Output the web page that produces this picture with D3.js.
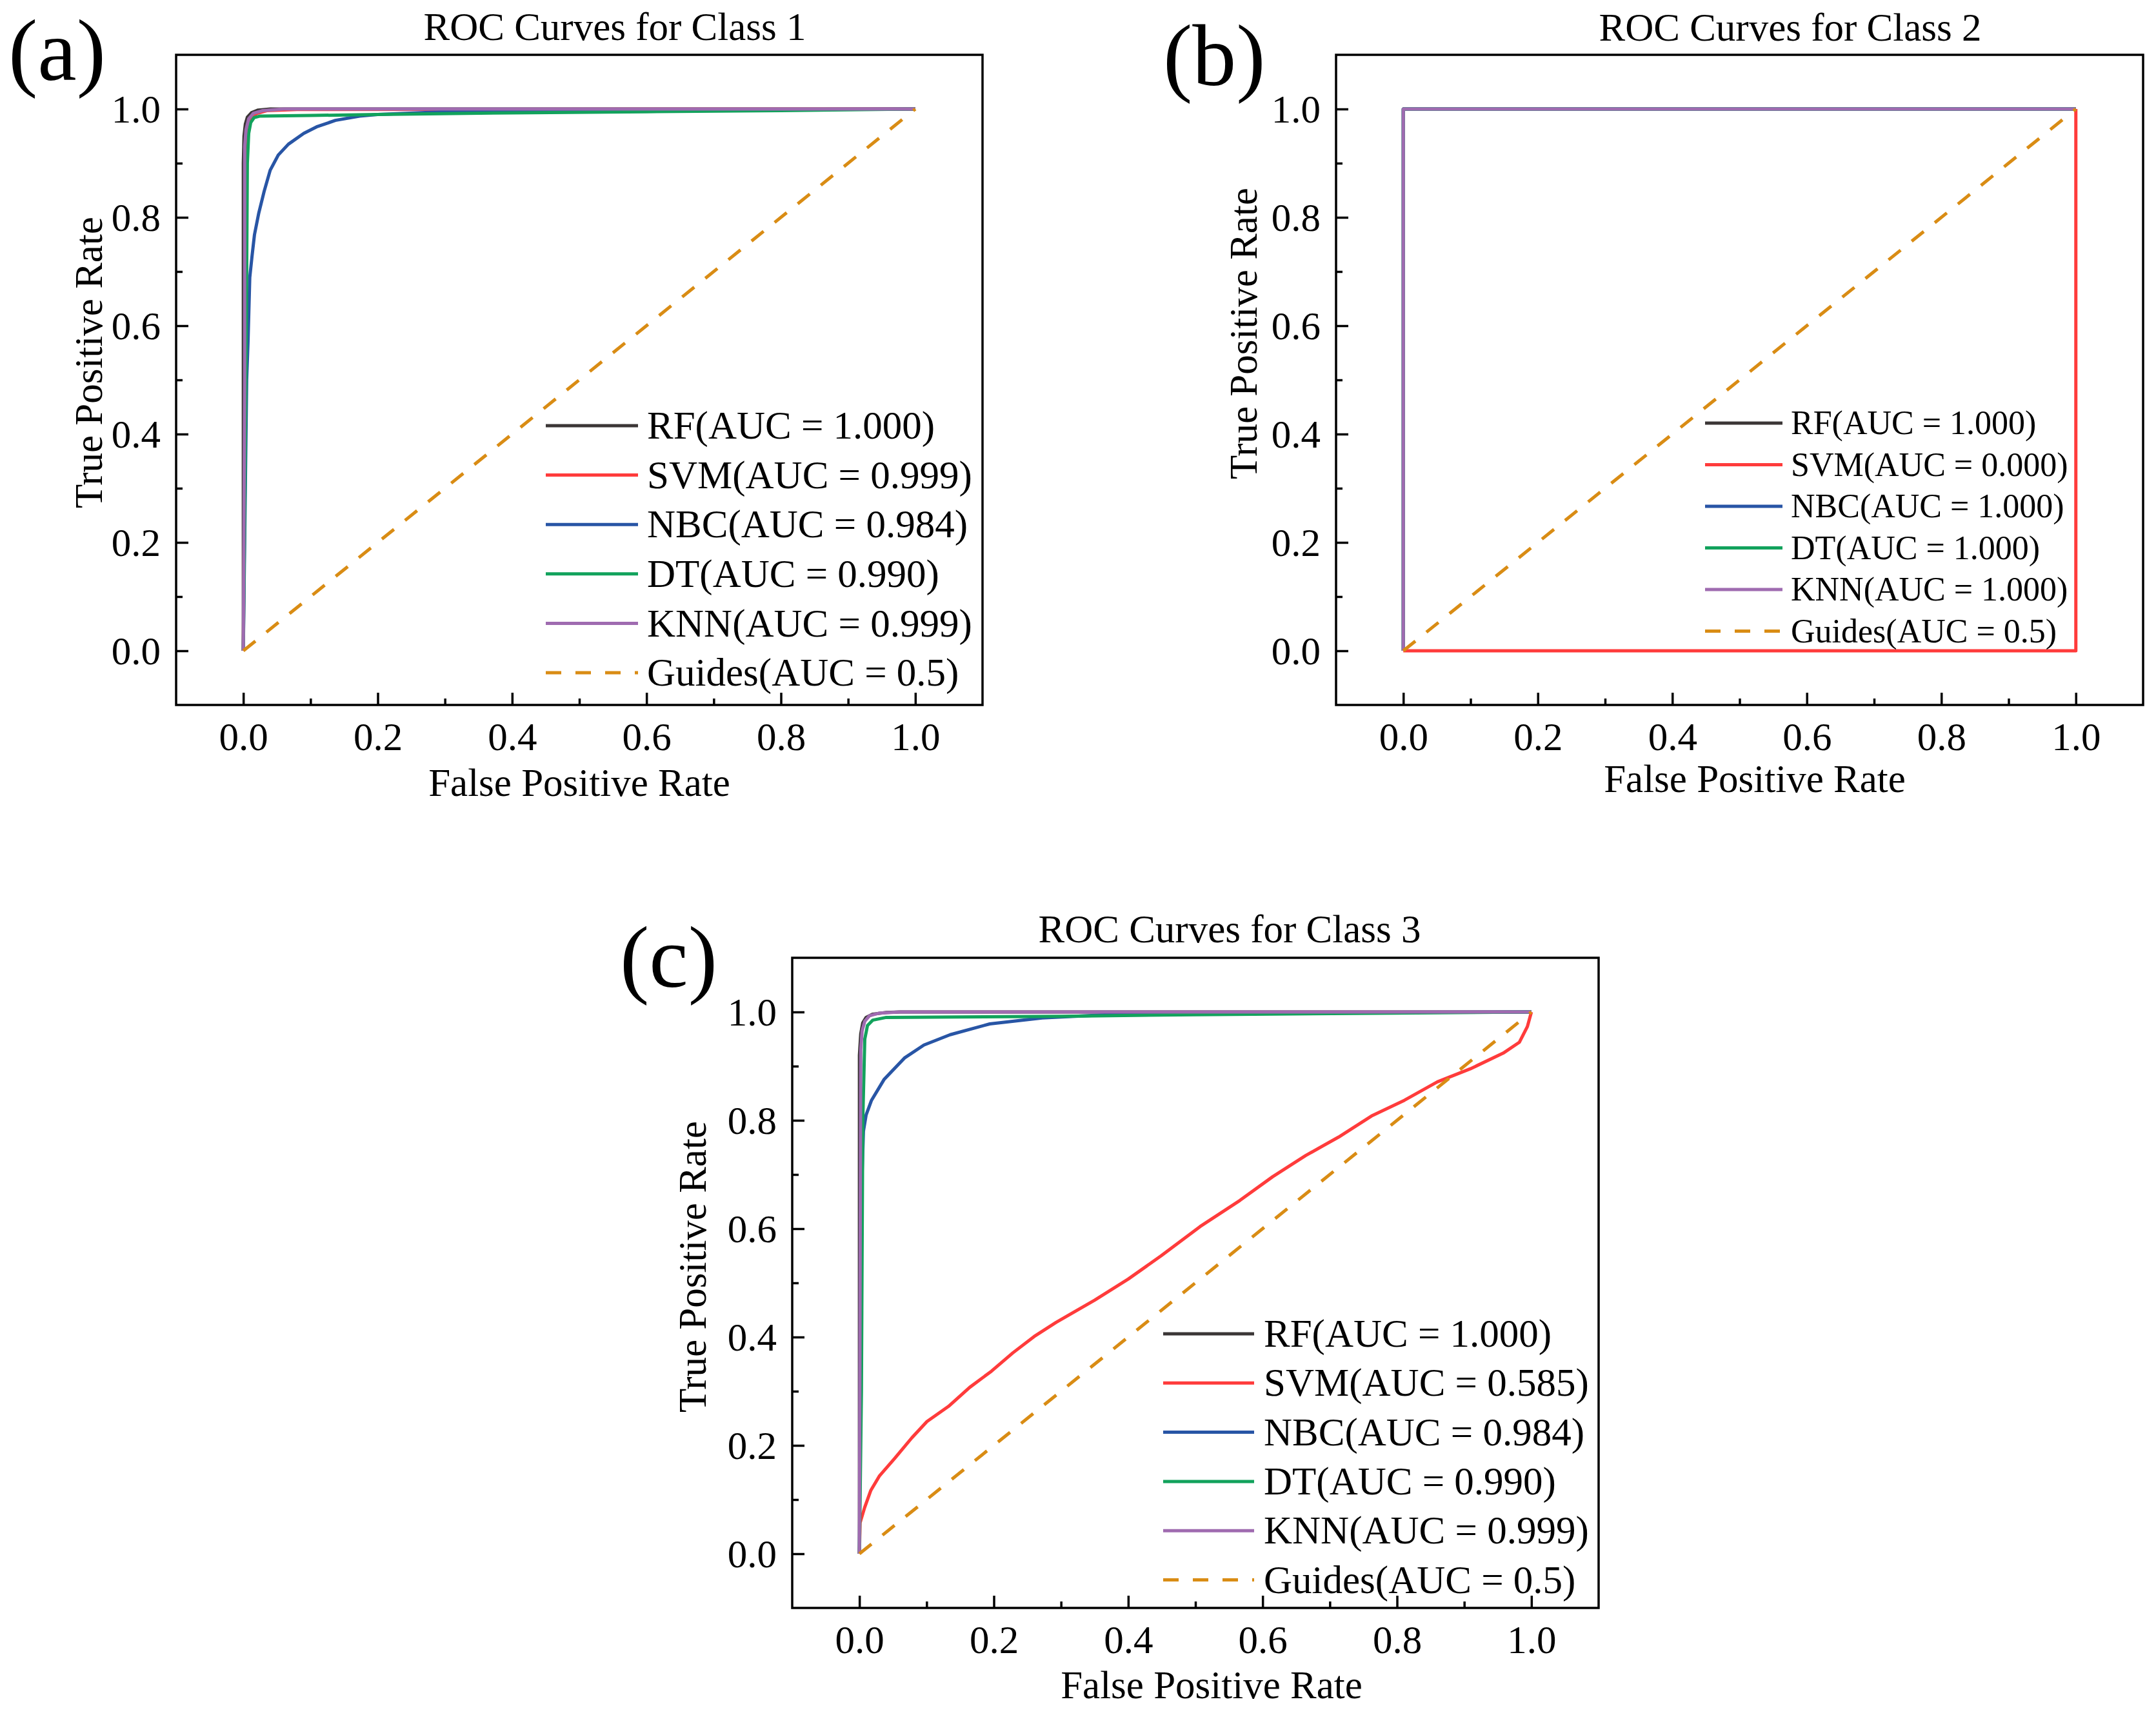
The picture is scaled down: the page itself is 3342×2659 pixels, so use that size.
<!DOCTYPE html>
<html>
<head>
<meta charset="utf-8">
<title>ROC Curves for Class 1-3</title>
<script src="https://d3js.org/d3.v7.min.js"></script>
<style>
  body { margin: 0; background: #fff; }
  svg { display: block; font-family: "Liberation Serif", "Times New Roman", serif; }
  .frame { fill: none; stroke: #000; stroke-width: 3.5px; }
  .axis path { display: none; }
  .axis line { stroke: #000; stroke-width: 3.5px; }
  .roc { fill: none; stroke-width: 5px; stroke-linejoin: round; stroke-linecap: butt; }
</style>
</head>
<body>
<svg id="chart"></svg>
<script>
// ---- data ----
const models = ["RF", "SVM", "NBC", "DT", "KNN"];
const colors = ["#3b3636", "#ff3b3b", "#2855a5", "#12a25c", "#9f6bb0"];
const guideColor = "#d98c14";

const aucA = ["1.000", "0.999", "0.984", "0.990", "0.999"];
const aucB = ["1.000", "0.000", "1.000", "1.000", "1.000"];
const aucC = ["1.000", "0.585", "0.984", "0.990", "0.999"];

const majorTicks = [0, 0.2, 0.4, 0.6, 0.8, 1.0];
const minorTicks = [0.1, 0.3, 0.5, 0.7, 0.9];

// class 1  [fpr, tpr]
const a_RF  = [[0,0],[0,0.90],[0.001,0.95],[0.003,0.972],[0.006,0.985],[0.012,0.993],[0.022,0.998],[0.04,1],[1,1]];
const a_SVM = [[0,0],[0.003,0.5],[0.004,0.93],[0.006,0.965],[0.01,0.98],[0.02,0.992],[0.035,0.997],[0.08,0.999],[1,1]];
const a_NBC = [[0,0],[0.003,0.3],[0.005,0.5],[0.007,0.57],[0.0096,0.689],[0.013,0.729],[0.0166,0.768],[0.023,0.808],
               [0.031,0.848],[0.040,0.887],[0.052,0.915],[0.067,0.935],[0.090,0.955],[0.109,0.967],[0.137,0.979],
               [0.173,0.987],[0.2,0.99],[0.3,0.995],[0.5,0.998],[1,1]];
const a_DT  = [[0,0],[0.004,0.5],[0.006,0.9],[0.008,0.955],[0.011,0.975],[0.016,0.984],[0.025,0.987],[0.1,0.988],
               [0.2,0.99],[0.4,0.993],[0.6,0.995],[0.8,0.997],[1,1]];
const a_KNN = [[0,0],[0.002,0.5],[0.002,0.93],[0.004,0.962],[0.008,0.982],[0.015,0.992],[0.029,0.997],[0.06,1],[1,1]];

// class 2
const b_RF  = [[0,0],[0,1],[1,1]];
const b_SVM = [[0,0],[1,0],[1,1]];
const b_NBC = [[0,0],[0,1],[1,1]];
const b_DT  = [[0,0],[0,1],[1,1]];
const b_KNN = [[0,0],[0,1],[1,1]];

// class 3
const c_RF  = [[0,0],[0,0.92],[0.002,0.96],[0.005,0.98],[0.01,0.99],[0.02,0.996],[0.04,0.999],[0.06,1],[1,1]];
const c_SVM = [[0,0],[0.001,0.057],[0.0077,0.085],[0.017,0.117],[0.030,0.144],[0.0525,0.176],[0.078,0.214],
               [0.1005,0.244],[0.1325,0.272],[0.164,0.307],[0.1965,0.337],[0.2285,0.371],[0.26,0.401],[0.2925,0.427],
               [0.35,0.468],[0.40,0.507],[0.449,0.55],[0.507,0.604],[0.566,0.652],[0.615,0.696],[0.664,0.735],
               [0.713,0.769],[0.762,0.808],[0.811,0.837],[0.86,0.871],[0.909,0.895],[0.958,0.924],[0.982,0.944],
               [0.994,0.973],[1,1]];
const c_NBC = [[0,0],[0.002,0.4],[0.004,0.7],[0.006,0.78],[0.01,0.81],[0.018,0.837],[0.037,0.876],[0.067,0.915],
               [0.096,0.939],[0.135,0.958],[0.194,0.978],[0.272,0.989],[0.37,0.995],[0.6,0.999],[1,1]];
const c_DT  = [[0,0],[0.003,0.3],[0.005,0.8],[0.008,0.95],[0.012,0.975],[0.02,0.985],[0.04,0.99],[0.3,0.992],
               [0.5,0.995],[0.8,0.998],[1,1]];
const c_KNN = [[0,0],[0.001,0.5],[0.002,0.93],[0.004,0.965],[0.008,0.983],[0.015,0.993],[0.03,0.998],[0.06,1],[1,1]];

const guide = [[0,0],[1,1]];

// ---- layout ----
const W = 3342, H = 2659;
const FONT = "Liberation Serif, Times New Roman, serif";
const svg = d3.select("#chart").attr("width", W).attr("height", H);
svg.append("rect").attr("width", W).attr("height", H).attr("fill", "#fff");

const panels = [
  { tag: "(a)", title: "ROC Curves for Class 1", curves: [a_RF, a_SVM, a_NBC, a_DT, a_KNN], auc: aucA,
    box: [273, 85, 1250, 1008], titlePos: [953, 62], tagPos: [13, 124], ylab: [158, 562], xlab: [898, 1234],
    leg: { x1: 846, x2: 989, tx: 1003, y0: 660, dy: 76.6, fs: 61 } },
  { tag: "(b)", title: "ROC Curves for Class 2", curves: [b_RF, b_SVM, b_NBC, b_DT, b_KNN], auc: aucB,
    box: [2071, 85, 1251, 1008], titlePos: [2775, 63], tagPos: [1803, 132], ylab: [1948, 517], xlab: [2720, 1228],
    leg: { x1: 2643, x2: 2763, tx: 2776, y0: 656, dy: 64.5, fs: 52 } },
  { tag: "(c)", title: "ROC Curves for Class 3", curves: [c_RF, c_SVM, c_NBC, c_DT, c_KNN], auc: aucC,
    box: [1228, 1485, 1250, 1008], titlePos: [1906, 1461], tagPos: [961, 1530], ylab: [1094, 1964], xlab: [1878, 2633],
    leg: { x1: 1803, x2: 1944, tx: 1959, y0: 2068, dy: 76.3, fs: 61 } }
];

const FS = 61;

panels.forEach(p => {
  const [bx, by, bw, bh] = p.box;
  const x = d3.scaleLinear().domain([-0.1, 1.1]).range([bx, bx + bw]);
  const y = d3.scaleLinear().domain([-0.1, 1.1]).range([by + bh, by]);
  const g = svg.append("g");

  // ticks point inward, bottom and left sides only
  const xMajor = g.append("g").attr("class", "axis").attr("transform", `translate(0,${by + bh})`)
    .call(d3.axisBottom(x).tickValues(majorTicks).tickSize(-19).tickFormat(d3.format(".1f")))
    .attr("font-family", FONT).attr("font-size", FS);
  xMajor.selectAll("text").attr("y", 70).attr("dy", 0).attr("fill", "#000");
  g.append("g").attr("class", "axis").attr("transform", `translate(0,${by + bh})`)
    .call(d3.axisBottom(x).tickValues(minorTicks).tickSize(-10).tickFormat(""));

  const yMajor = g.append("g").attr("class", "axis").attr("transform", `translate(${bx},0)`)
    .call(d3.axisLeft(y).tickValues(majorTicks).tickSize(-19).tickFormat(d3.format(".1f")))
    .attr("font-family", FONT).attr("font-size", FS);
  yMajor.selectAll("text").attr("x", -24).attr("dy", "0.34em").attr("fill", "#000");
  g.append("g").attr("class", "axis").attr("transform", `translate(${bx},0)`)
    .call(d3.axisLeft(y).tickValues(minorTicks).tickSize(-10).tickFormat(""));

  // curves
  const line = d3.line().x(d => x(d[0])).y(d => y(d[1]));
  p.curves.forEach((c, i) => {
    g.append("path").datum(c).attr("class", "roc").attr("d", line).attr("stroke", colors[i]);
  });
  g.append("path").datum(guide).attr("class", "roc").attr("d", line)
    .attr("stroke", guideColor).attr("stroke-dasharray", "24,22");

  // frame
  g.append("rect").attr("class", "frame").attr("x", bx).attr("y", by).attr("width", bw).attr("height", bh);

  // legend
  const L = p.leg;
  const names = models.map((m, i) => `${m}(AUC = ${p.auc[i]})`).concat(["Guides(AUC = 0.5)"]);
  names.forEach((n, i) => {
    const ly = L.y0 + i * L.dy;
    const isGuide = i === models.length;
    g.append("line").attr("x1", L.x1).attr("x2", L.x2).attr("y1", ly).attr("y2", ly)
      .attr("stroke", isGuide ? guideColor : colors[i]).attr("stroke-width", 5)
      .attr("stroke-dasharray", isGuide ? "24,22" : null);
    g.append("text").attr("x", L.tx).attr("y", ly).attr("dy", "0.33em")
      .attr("font-size", L.fs).text(n);
  });

  // texts
  g.append("text").attr("x", p.titlePos[0]).attr("y", p.titlePos[1]).attr("text-anchor", "middle")
    .attr("font-size", FS).text(p.title);
  g.append("text").attr("x", p.tagPos[0]).attr("y", p.tagPos[1]).attr("font-size", 136).text(p.tag);
  g.append("text").attr("x", p.xlab[0]).attr("y", p.xlab[1]).attr("text-anchor", "middle")
    .attr("font-size", FS).text("False Positive Rate");
  g.append("text").attr("transform", `translate(${p.ylab[0]},${p.ylab[1]}) rotate(-90)`)
    .attr("text-anchor", "middle").attr("font-size", FS).text("True Positive Rate");
});
</script>
</body>
</html>
